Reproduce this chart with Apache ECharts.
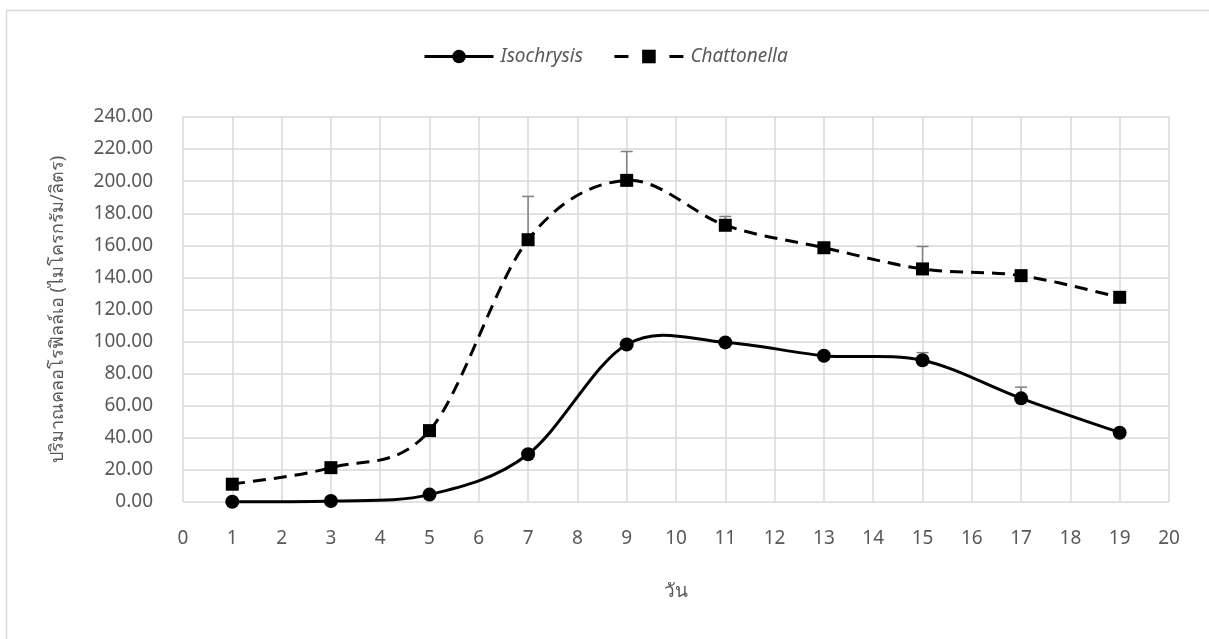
<!DOCTYPE html>
<html>
<head>
<meta charset="utf-8">
<script src="https://cdn.jsdelivr.net/npm/echarts@6/dist/echarts.min.js"></script>
<style>
  html, body { margin: 0; padding: 0; background: #fff; }
  #chart { width: 1209px; height: 639px; }
</style>
</head>
<body>
<div id="chart"></div>
<script>
// Chlorophyll-a content over culture days for two algae
const days = [1, 3, 5, 7, 9, 11, 13, 15, 17, 19];
const isochrysis = [0.2, 0.6, 4.6, 29.8, 98.2, 99.5, 91.2, 88.4, 64.6, 43.2];
const isochrysisErr = [0, 0, 0, 0, 0, 0, 0, 4.7, 7, 0];
const chattonella = [11.1, 21.4, 44.5, 163.5, 200.5, 172.5, 158.5, 145.3, 141.1, 127.6];
const chattonellaErr = [0, 0, 0, 27, 18, 5.5, 0, 14, 0, 0];
const seriesNames = ['Isochrysis', 'Chattonella'];
const xAxisTitle = 'วัน';
const yAxisTitle = 'ปริมาณคลอโรฟิลล์เอ (ไมโครกรัม/ลิตร)';

const FONT = '"Noto Sans", "Open Sans", sans-serif';
const TEXT = '#595959';
const DASH = [13, 8];

function pairs(ys) { return days.map((d, i) => [d, ys[i]]); }

// Upward error bars with a small cap
function errorSeries(ys, errs) {
  const data = days.map((d, i) => [d, ys[i], ys[i] + errs[i]]).filter((r, i) => errs[i] > 0);
  return {
    type: 'custom',
    z: 1,
    silent: true,
    data: data,
    encode: { x: 0, y: [1, 2] },
    renderItem: function (params, api) {
      const lo = api.coord([api.value(0), api.value(1)]);
      const hi = api.coord([api.value(0), api.value(2)]);
      const cap = 6;
      const style = { stroke: '#7f7f7f', lineWidth: 1.5 };
      return {
        type: 'group',
        children: [
          { type: 'line', shape: { x1: lo[0], y1: lo[1], x2: hi[0], y2: hi[1] }, style: style },
          { type: 'line', shape: { x1: hi[0] - cap, y1: hi[1], x2: hi[0] + cap, y2: hi[1] }, style: style }
        ]
      };
    }
  };
}

// Smoothed curve through the points (cardinal spline, tangent/6 Bezier handles)
function curveSeries(ys, dash) {
  return {
    type: 'custom',
    z: 2,
    silent: true,
    data: [[days[0], ys[0]]],
    encode: { x: 0, y: 1 },
    renderItem: function (params, api) {
      const p = days.map((d, i) => api.coord([d, ys[i]]));
      const n = p.length;
      let d = 'M' + p[0][0] + ' ' + p[0][1];
      for (let i = 0; i < n - 1; i++) {
        const p0 = p[Math.max(i - 1, 0)], p1 = p[i], p2 = p[i + 1], p3 = p[Math.min(i + 2, n - 1)];
        const c1x = p1[0] + (p2[0] - p0[0]) / 6, c1y = p1[1] + (p2[1] - p0[1]) / 6;
        const c2x = p2[0] - (p3[0] - p1[0]) / 6, c2y = p2[1] - (p3[1] - p1[1]) / 6;
        d += ' C' + c1x + ' ' + c1y + ' ' + c2x + ' ' + c2y + ' ' + p2[0] + ' ' + p2[1];
      }
      return {
        type: 'path',
        shape: { pathData: d },
        style: { fill: 'none', stroke: '#000', lineWidth: 3, lineDash: dash || null }
      };
    }
  };
}

const chart = echarts.init(document.getElementById('chart'), null, { renderer: 'canvas' });
chart.setOption({
  backgroundColor: '#fff',
  animation: false,
  graphic: [{
    type: 'rect',
    shape: { x: 6.5, y: 10.5, width: 1220, height: 650 },
    style: { fill: 'none', stroke: '#d9d9d9', lineWidth: 1.5 },
    silent: true,
    z: -10
  }],
  legend: {
    top: 42,
    left: 418,
    itemWidth: 69,
    itemHeight: 17,
    itemGap: 30,
    textStyle: { fontFamily: FONT, fontSize: 19, fontStyle: 'italic', color: TEXT, padding: [0, 0, 0, 2] },
    data: [
      { name: seriesNames[0], lineStyle: { opacity: 1, color: '#000', width: 3, type: 'solid' } },
      { name: seriesNames[1], lineStyle: { opacity: 1, color: '#000', width: 3, type: [14, 41] } }
    ]
  },
  grid: { left: 183, right: 40, top: 117, bottom: 137, containLabel: false },
  xAxis: {
    type: 'value',
    min: 0, max: 20, interval: 1,
    name: xAxisTitle,
    nameLocation: 'middle',
    nameGap: 80,
    nameTextStyle: { fontFamily: FONT, fontSize: 19, color: TEXT },
    axisLine: { show: false },
    axisTick: { show: false },
    axisLabel: { fontFamily: FONT, fontSize: 19, color: TEXT, margin: 27 },
    splitLine: { show: true, lineStyle: { color: '#d9d9d9', width: 1.5 } }
  },
  yAxis: {
    type: 'value',
    min: 0, max: 240, interval: 20,
    name: yAxisTitle,
    nameLocation: 'middle',
    nameGap: 116,
    nameTextStyle: { fontFamily: FONT, fontSize: 18, color: TEXT },
    axisLine: { show: false },
    axisTick: { show: false },
    axisLabel: { fontFamily: FONT, fontSize: 19, color: TEXT, margin: 30, formatter: v => v.toFixed(2) },
    splitLine: { show: true, lineStyle: { color: '#d9d9d9', width: 1.5 } }
  },
  series: [
    errorSeries(isochrysis, isochrysisErr),
    errorSeries(chattonella, chattonellaErr),
    curveSeries(isochrysis, null),
    curveSeries(chattonella, DASH),
    {
      name: seriesNames[0],
      type: 'line',
      z: 3,
      data: pairs(isochrysis),
      symbol: 'circle',
      symbolSize: 14,
      itemStyle: { color: '#000' },
      lineStyle: { color: '#000', width: 3, opacity: 0 }
    },
    {
      name: seriesNames[1],
      type: 'line',
      z: 3,
      data: pairs(chattonella),
      symbol: 'rect',
      symbolSize: 13,
      itemStyle: { color: '#000' },
      lineStyle: { color: '#000', width: 3, opacity: 0 }
    }
  ]
});
</script>
</body>
</html>
